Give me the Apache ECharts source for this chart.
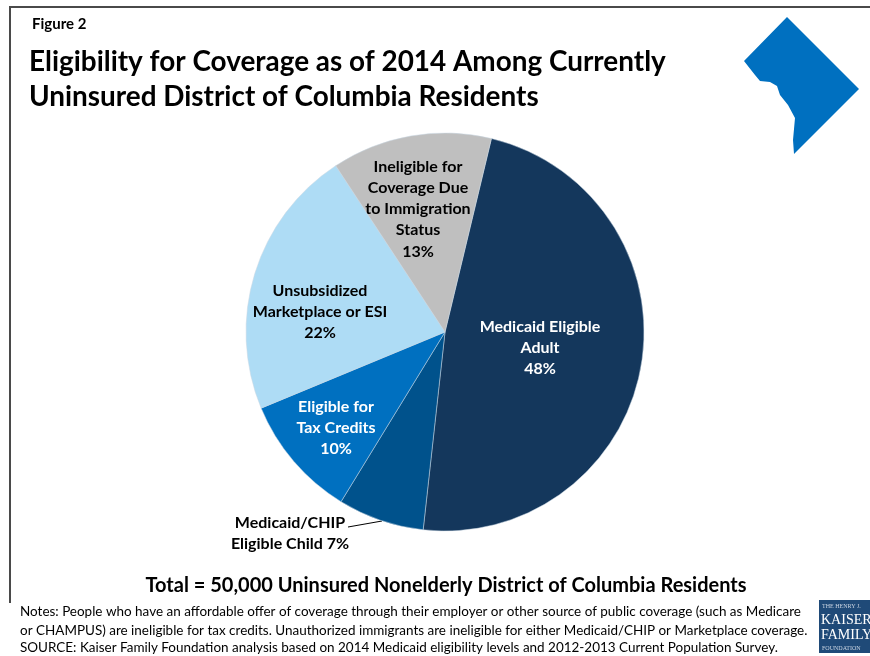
<!DOCTYPE html>
<html>
<head>
<meta charset="utf-8">
<style>html,body{margin:0;padding:0;background:#fff}#c{width:870px;height:656px}</style>
<script src="https://cdn.jsdelivr.net/npm/echarts@6/dist/echarts.min.js"></script>
</head>
<body>
<div id="c"></div>
<script>
// Eligibility shares, clockwise from the Medicaid adult slice
const categories = [
  'Medicaid Eligible\nAdult',
  'Medicaid/CHIP\nEligible Child',
  'Eligible for\nTax Credits',
  'Unsubsidized\nMarketplace or ESI',
  'Ineligible for\nCoverage Due\nto Immigration\nStatus'
];
const shares = [48, 7, 10, 22, 13];
const sliceColors = ['#14375c', '#00528c', '#0070c0', '#aedcf5', '#bfbfbf'];
const labelColors = ['#ffffff', '#000000', '#ffffff', '#000000', '#000000'];
const labelCentres = [[540, 348], [290, 533], [336, 428], [320, 312], [418, 209]];

const titleLines = ['Eligibility for Coverage as of 2014 Among Currently', 'Uninsured District of Columbia Residents'];
const totalLine = 'Total = 50,000 Uninsured Nonelderly District of Columbia Residents';
const noteLines = [
  'Notes: People who have an affordable offer of coverage through their employer or other source of public coverage (such as Medicare',
  'or CHAMPUS) are ineligible for tax credits. Unauthorized immigrants are ineligible for either Medicaid/CHIP or Marketplace coverage.',
  'SOURCE: Kaiser Family Foundation analysis based on 2014 Medicaid eligibility levels and 2012-2013 Current Population Survey.'
];
// Outline of the District of Columbia
const districtOutline = [[787,17],[859,89],[794,154],[793,140],[795,118],[788,105],[780,95],[777,86],[770,82],[760,81],[755,75],[744,61]];

const FONT = 'Lato';
const text = (x, y, t, size, weight, color, extra) => ({
  type: 'text', x, y, silent: true,
  style: Object.assign({ text: t, fontFamily: FONT, fontSize: size, fontWeight: weight, fill: color || '#000',
    textVerticalAlign: 'middle' }, extra || {})
});

const chart = echarts.init(document.getElementById('c'), null, { renderer: 'canvas' });
chart.setOption({
  animation: false,
  backgroundColor: '#ffffff',
  series: [{
    type: 'pie',
    center: [445, 332],
    radius: [0, 199],
    startAngle: 76.5,
    clockwise: true,
    avoidLabelOverlap: false,
    itemStyle: { borderColor: '#c9d6e2', borderWidth: 0.5 },
    data: shares.map((v, i) => ({
      value: v,
      name: categories[i],
      itemStyle: { color: sliceColors[i] },
      label: { color: labelColors[i] },
      labelLine: { show: false }
    })),
    label: {
      show: true,
      position: 'inside',
      formatter: p => p.dataIndex === 1 ? p.name + ' ' + p.value + '%' : p.name + '\n' + p.value + '%',
      fontFamily: FONT,
      fontSize: 16,
      fontWeight: 'bold',
      lineHeight: 21.2,
      align: 'center',
      verticalAlign: 'middle'
    },
    labelLayout: p => {
      const c = labelCentres[p.dataIndex];
      return { x: c[0], y: c[1], align: 'center', verticalAlign: 'middle' };
    }
  }],
  graphic: [
    // Frame rules along the top and left
    { type: 'line', silent: true, shape: { x1: 10, y1: 7, x2: 870, y2: 7 }, style: { stroke: '#4a4a4a', lineWidth: 2 } },
    { type: 'line', silent: true, shape: { x1: 10, y1: 6, x2: 10, y2: 603 }, style: { stroke: '#4a4a4a', lineWidth: 2 } },
    // Leader from the child slice to its label
    { type: 'polyline', silent: true, shape: { points: [[382, 521], [348, 527]] }, style: { stroke: '#000', lineWidth: 1, fill: null } },
    text(32, 24, 'Figure 2', 15, 'bold'),
    text(29, 62, titleLines[0], 27.9, 'bold'),
    text(29, 97, titleLines[1], 27.9, 'bold'),
    { type: 'polygon', silent: true, shape: { points: districtOutline }, style: { fill: '#0070c0' } },
    text(446, 586, totalLine, 20, 'bold', '#000', { textAlign: 'center' }),
    text(20, 612, noteLines[0], 13.47, 'normal'),
    text(20, 630.5, noteLines[1], 13.47, 'normal'),
    text(20, 648, noteLines[2], 13.47, 'normal'),
    // Foundation mark, bottom right
    { type: 'rect', silent: true, shape: { x: 819, y: 600, width: 51, height: 53 }, style: { fill: '#1f4a78' } },
    text(822, 606, 'THE HENRY J.', 6, 'normal', '#c9d4e2', { fontFamily: 'Liberation Serif' }),
    text(821, 620, 'KAISER', 14, 'normal', '#ffffff', { fontFamily: 'Liberation Serif' }),
    text(821, 635, 'FAMILY', 14, 'normal', '#ffffff', { fontFamily: 'Liberation Serif' }),
    text(822, 648, 'FOUNDATION', 6, 'normal', '#c9d4e2', { fontFamily: 'Liberation Serif' })
  ]
});
</script>
</body>
</html>
